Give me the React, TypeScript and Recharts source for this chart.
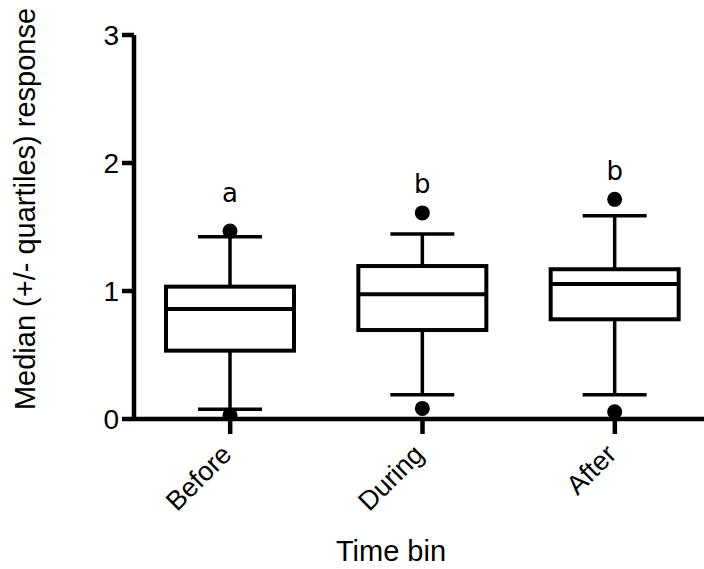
import { ComposedChart, Bar, XAxis, YAxis, Label } from "recharts";

const bins = ["Before", "During", "After"];
const whiskerLow = [0.076, 0.19, 0.19];
const q1 = [0.534, 0.695, 0.779];
const median = [0.86, 0.974, 1.055];
const q3 = [1.034, 1.195, 1.17];
const whiskerHigh = [1.424, 1.445, 1.588];
const outlierLow = [0.031, 0.083, 0.057];
const outlierHigh = [1.469, 1.61, 1.716];
const groupLetters = ["a", "b", "b"];
const letterAt = [1.695, 1.766, 1.867];
const yTicks = [0, 1, 2, 3];

const data = bins.map((bin, i) => ({
  bin,
  lo: outlierLow[i],
  hi: letterAt[i],
  span: [outlierLow[i], letterAt[i]],
  wLo: whiskerLow[i],
  q1: q1[i],
  med: median[i],
  q3: q3[i],
  wHi: whiskerHigh[i],
  oLo: outlierLow[i],
  oHi: outlierHigh[i],
  letter: groupLetters[i],
  letterAt: letterAt[i],
}));

const FONT = "'Liberation Sans', Arial, sans-serif";

function BoxShape(props: any) {
  const { x, y, width, height, payload } = props;
  const top = Math.min(y, y + height);
  const bot = Math.max(y, y + height);
  const ppu = (bot - top) / (payload.hi - payload.lo);
  const yOf = (v: number) => bot - (v - payload.lo) * ppu;
  const cx = x + width / 2;
  const cap = width / 4;
  return (
    <g>
      <line x1={cx} x2={cx} y1={yOf(payload.wHi)} y2={yOf(payload.q3)} stroke="#000" strokeWidth={3.5} />
      <line x1={cx} x2={cx} y1={yOf(payload.q1)} y2={yOf(payload.wLo)} stroke="#000" strokeWidth={3.5} />
      <line x1={cx - cap} x2={cx + cap} y1={yOf(payload.wHi)} y2={yOf(payload.wHi)} stroke="#000" strokeWidth={3.5} />
      <line x1={cx - cap} x2={cx + cap} y1={yOf(payload.wLo)} y2={yOf(payload.wLo)} stroke="#000" strokeWidth={3.5} />
      <rect
        x={x}
        y={yOf(payload.q3)}
        width={width}
        height={yOf(payload.q1) - yOf(payload.q3)}
        fill="#fff"
        stroke="#000"
        strokeWidth={4}
      />
      <line x1={x} x2={x + width} y1={yOf(payload.med)} y2={yOf(payload.med)} stroke="#000" strokeWidth={4} />
      <circle cx={cx} cy={yOf(payload.oHi)} r={7.5} fill="#000" />
      <circle cx={cx} cy={yOf(payload.oLo)} r={7.5} fill="#000" />
      <text
        x={cx}
        y={yOf(payload.letterAt)}
        textAnchor="middle"
        fontSize={26}
        fontFamily="'DejaVu Sans', sans-serif"
        fill="#000"
      >
        {payload.letter}
      </text>
    </g>
  );
}

function BinTick(props: any) {
  const { x, y, payload } = props;
  const tx = x + 3;
  const ty = y + 20;
  return (
    <text
      x={tx}
      y={ty}
      transform={`rotate(-45, ${tx}, ${ty})`}
      textAnchor="end"
      fontSize={27}
      fontFamily={FONT}
      fill="#000"
    >
      {payload.value}
    </text>
  );
}

export default function App() {
  return (
    <div style={{ width: 704, height: 569, overflow: "hidden", background: "#fff" }}>
      <style>{`body{margin:0}`}</style>
      <ComposedChart
        width={721}
        height={569}
        data={data}
        margin={{ top: 35, right: 10, left: 0, bottom: 0 }}
      >
        <XAxis
          dataKey="bin"
          height={150}
          tickSize={15}
          tickLine={{ stroke: "#000", strokeWidth: 4.5 }}
          axisLine={{ stroke: "#000", strokeWidth: 4.5 }}
          tick={<BinTick />}
          interval={0}
        >
          <Label
            content={(p: any) => {
              const vb = p.viewBox;
              return (
                <text
                  x={vb.x + vb.width / 2 - 31.5}
                  y={vb.y + 141.7}
                  textAnchor="middle"
                  fontSize={29}
                  fontFamily={FONT}
                  fill="#000"
                >
                  Time bin
                </text>
              );
            }}
          />
        </XAxis>
        <YAxis
          width={134}
          domain={[0, 3]}
          ticks={yTicks}
          tickSize={12}
          tickMargin={3}
          tickLine={{ stroke: "#000", strokeWidth: 4.5 }}
          axisLine={{ stroke: "#000", strokeWidth: 4.5 }}
          tick={{ fontSize: 28, fill: "#000", fontFamily: FONT }}
          allowDataOverflow
        >
          <Label
            content={(p: any) => {
              const vb = p.viewBox;
              const cx = 25;
              const cy = vb.y + vb.height / 2 - 18;
              return (
                <text
                  x={cx}
                  y={cy}
                  transform={`rotate(-90, ${cx}, ${cy})`}
                  textAnchor="middle"
                  dominantBaseline="central"
                  fontSize={29}
                  fontFamily={FONT}
                  fill="#000"
                >
                  Median (+/- quartiles) response
                </text>
              );
            }}
          />
        </YAxis>
        <Bar dataKey="span" barSize={128} shape={<BoxShape />} isAnimationActive={false} />
      </ComposedChart>
    </div>
  );
}
